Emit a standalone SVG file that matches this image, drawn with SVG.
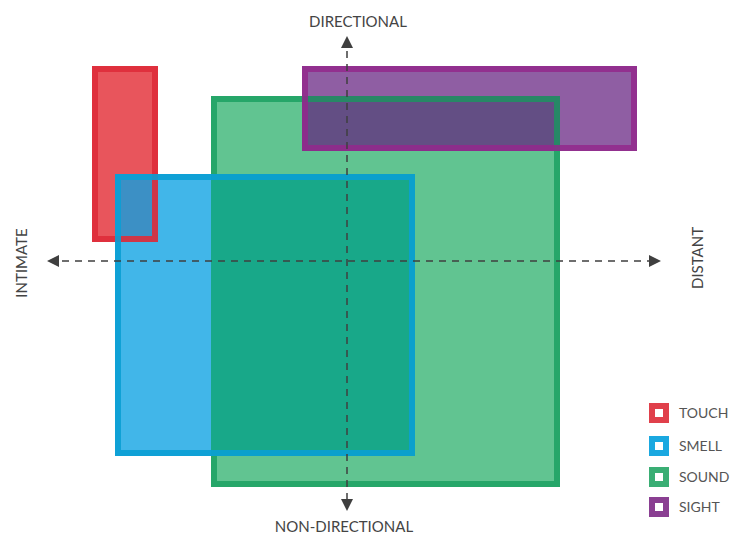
<svg xmlns="http://www.w3.org/2000/svg" width="731" height="535" viewBox="0 0 731 535">
  <defs>
    <marker id="arrow" viewBox="0 0 12 12" refX="10" refY="6" markerWidth="12" markerHeight="12" markerUnits="userSpaceOnUse" orient="auto-start-reverse">
      <path d="M0,0 L12,6 L0,12 Z" fill="#3f3f3f"/>
    </marker>
    <style>
      .lbl { font-family: "Lato", "Liberation Sans", sans-serif; font-size: 15px; fill: #444; }
      .leg { font-family: "Lato", "Liberation Sans", sans-serif; font-size: 14px; fill: #555; }
      .axis { stroke: #3f3f3f; stroke-width: 1.5; stroke-dasharray: 7 6; fill: none; }
      .border { fill: none; stroke-width: 6; }
    </style>
  </defs>
  <rect width="731" height="535" fill="#ffffff"/>

  <!-- fills, back to front -->
  <g id="touch-fill"><rect x="92" y="66" width="66" height="176" fill="#e8555c"/></g>
  <g id="smell-fill"><rect x="115" y="174" width="300" height="282" fill="#0ca2e3" fill-opacity="0.78"/></g>
  <g id="sound-fill"><rect x="211" y="96" width="349" height="391" fill="#009f4e" fill-opacity="0.62"/></g>
  <g id="sight-fill"><rect x="302" y="66" width="335" height="85" fill="#642080" fill-opacity="0.72"/></g>

  <!-- outlines drawn above the fills -->
  <g id="outlines">
    <rect class="border" x="95" y="69" width="60" height="170" stroke="#de2c3a" stroke-opacity="0.9"/>
    <!-- sound outline: left side left open where it runs under the smell area -->
    <path class="border" d="M214,174 V99 H557 V484 H214 V456" stroke="#139c5c" stroke-opacity="0.75" stroke-linejoin="miter"/>
    <rect class="border" x="118" y="177" width="294" height="276" stroke="#0a9fd4" stroke-opacity="0.9"/>
    <rect class="border" x="305" y="69" width="329" height="79" stroke="#93288c" stroke-opacity="0.85"/>
  </g>

  <!-- axes -->
  <g id="connectors">
    <line class="axis" x1="347" y1="38" x2="347" y2="509" marker-start="url(#arrow)" marker-end="url(#arrow)"/>
    <line class="axis" x1="49" y1="261" x2="659" y2="261" marker-start="url(#arrow)" marker-end="url(#arrow)"/>
  </g>

  <!-- axis labels -->
  <g id="label-directional"><text class="lbl" x="358" y="27" text-anchor="middle">DIRECTIONAL</text></g>
  <g id="label-non-directional"><text class="lbl" x="344" y="532" text-anchor="middle">NON-DIRECTIONAL</text></g>
  <g id="label-intimate"><text class="lbl" transform="translate(27,263) rotate(-90)" text-anchor="middle">INTIMATE</text></g>
  <g id="label-distant"><text class="lbl" transform="translate(703,258) rotate(-90)" text-anchor="middle">DISTANT</text></g>

  <!-- legend -->
  <g id="legend-touch">
    <rect x="649" y="403" width="20" height="20" fill="#e0404b"/>
    <rect x="655" y="409" width="8" height="8" fill="#fff"/>
    <text class="leg" x="679" y="418">TOUCH</text>
  </g>
  <g id="legend-smell">
    <rect x="649" y="436" width="20" height="20" fill="#1aa8e0"/>
    <rect x="655" y="442" width="8" height="8" fill="#fff"/>
    <text class="leg" x="679" y="451">SMELL</text>
  </g>
  <g id="legend-sound">
    <rect x="649" y="467" width="20" height="20" fill="#3aae74"/>
    <rect x="655" y="473" width="8" height="8" fill="#fff"/>
    <text class="leg" x="679" y="482">SOUND</text>
  </g>
  <g id="legend-sight">
    <rect x="649" y="497" width="20" height="20" fill="#8a3f92"/>
    <rect x="655" y="503" width="8" height="8" fill="#fff"/>
    <text class="leg" x="679" y="512">SIGHT</text>
  </g>
</svg>
